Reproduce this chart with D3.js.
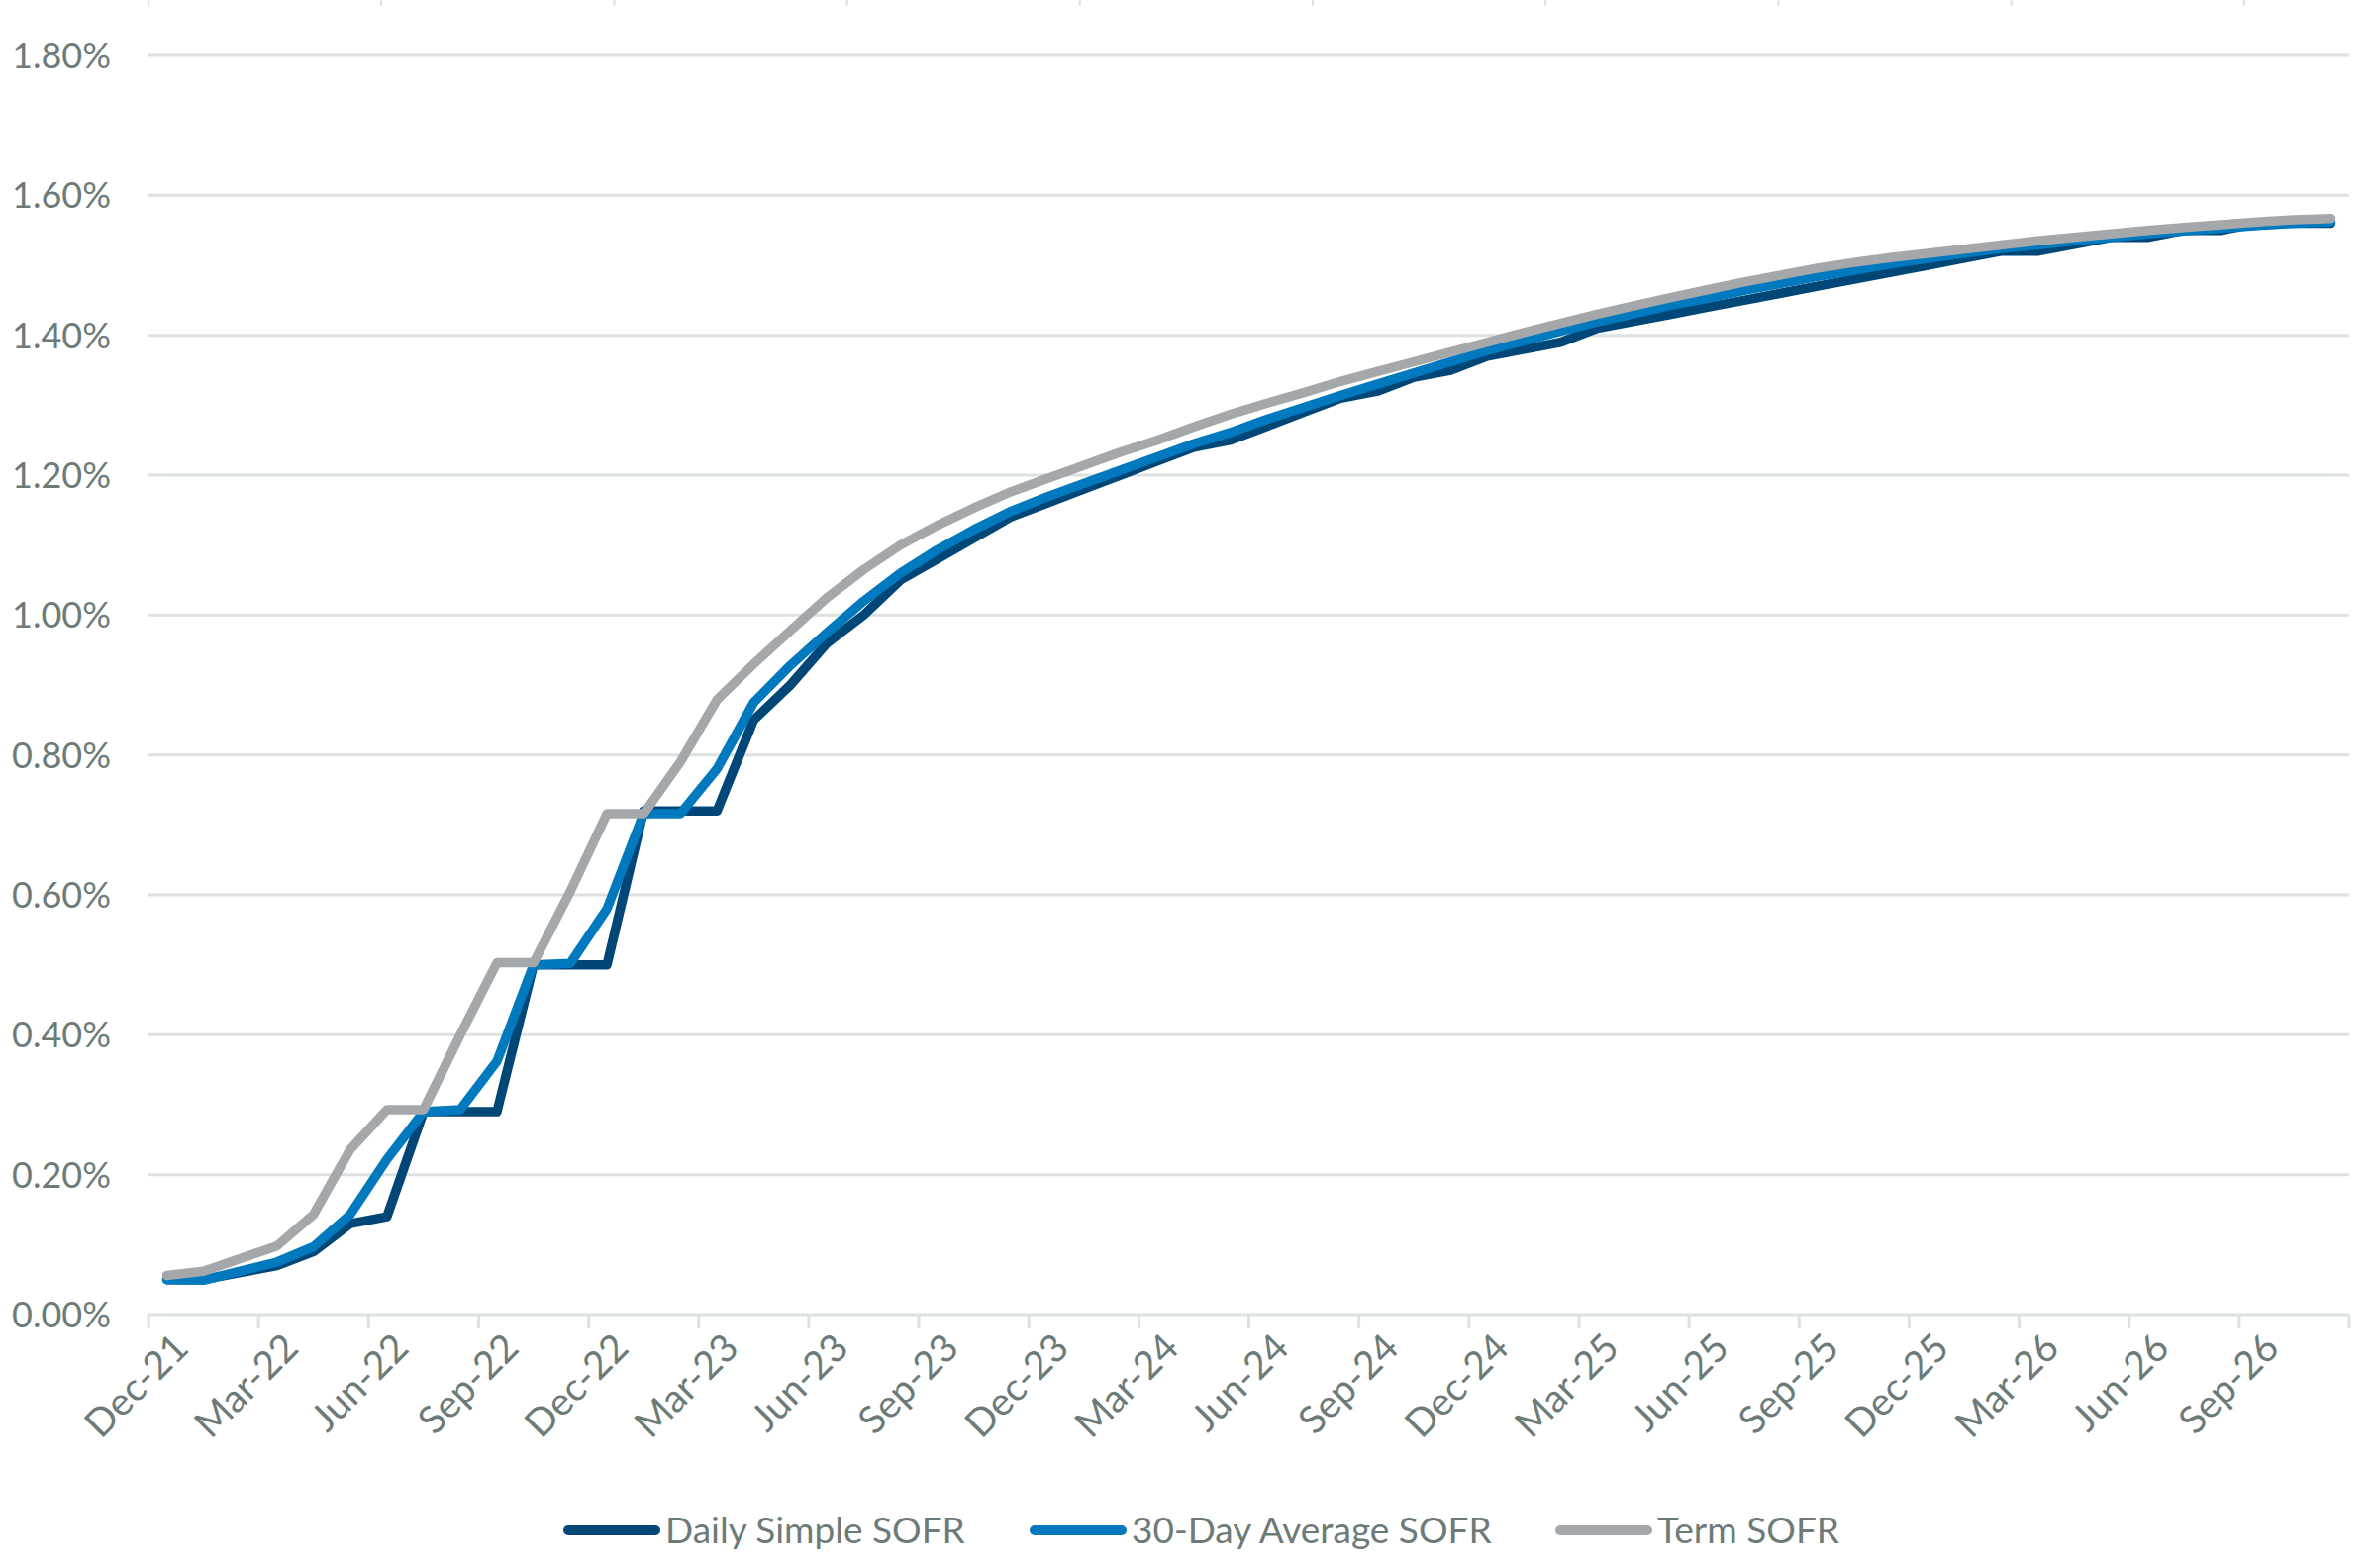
<!DOCTYPE html>
<html>
<head>
<meta charset="utf-8">
<script src="https://cdn.jsdelivr.net/npm/d3@7"></script>
<style>
  html, body { margin: 0; padding: 0; background: #ffffff; }
  svg { display: block; }
</style>
</head>
<body>
<svg id="chart" width="2400" height="1584"></svg>
<script>
const categories = [
  "Dec-21","Jan-22","Feb-22","Mar-22","Apr-22","May-22","Jun-22","Jul-22","Aug-22","Sep-22","Oct-22","Nov-22",
  "Dec-22","Jan-23","Feb-23","Mar-23","Apr-23","May-23","Jun-23","Jul-23","Aug-23","Sep-23","Oct-23","Nov-23",
  "Dec-23","Jan-24","Feb-24","Mar-24","Apr-24","May-24","Jun-24","Jul-24","Aug-24","Sep-24","Oct-24","Nov-24",
  "Dec-24","Jan-25","Feb-25","Mar-25","Apr-25","May-25","Jun-25","Jul-25","Aug-25","Sep-25","Oct-25","Nov-25",
  "Dec-25","Jan-26","Feb-26","Mar-26","Apr-26","May-26","Jun-26","Jul-26","Aug-26","Sep-26","Oct-26","Nov-26"
];

const dailySimpleSOFR = [
  0.05,0.05,0.06,0.07,0.09,0.13,0.14,0.29,0.29,0.29,0.50,0.50,
  0.50,0.72,0.72,0.72,0.85,0.90,0.96,1.00,1.05,1.08,1.11,1.14,
  1.16,1.18,1.20,1.22,1.24,1.25,1.27,1.29,1.31,1.32,1.34,1.35,
  1.37,1.38,1.39,1.41,1.42,1.43,1.44,1.45,1.46,1.47,1.48,1.49,
  1.50,1.51,1.52,1.52,1.53,1.54,1.54,1.55,1.55,1.56,1.56,1.56
];

const avg30DaySOFR = [
  0.050,0.049,0.062,0.075,0.097,0.143,0.222,0.290,0.293,0.362,0.500,0.502,
  0.580,0.716,0.716,0.780,0.875,0.928,0.975,1.020,1.060,1.093,1.122,1.148,
  1.169,1.188,1.207,1.226,1.245,1.261,1.280,1.297,1.314,1.330,1.346,1.362,
  1.378,1.392,1.406,1.419,1.431,1.443,1.453,1.464,1.474,1.484,1.493,1.502,
  1.510,1.517,1.524,1.529,1.535,1.540,1.545,1.549,1.553,1.557,1.560,1.562
];

const termSOFR = [
  0.056,0.062,0.080,0.098,0.143,0.236,0.293,0.293,0.400,0.503,0.503,0.605,
  0.716,0.716,0.790,0.879,0.930,0.978,1.025,1.065,1.100,1.128,1.153,1.176,
  1.195,1.214,1.233,1.250,1.269,1.287,1.303,1.318,1.334,1.348,1.362,1.376,
  1.390,1.404,1.417,1.430,1.442,1.454,1.465,1.476,1.486,1.496,1.504,1.511,
  1.517,1.523,1.529,1.535,1.540,1.545,1.550,1.554,1.558,1.562,1.565,1.567
];

const yTickValues = [0, 0.2, 0.4, 0.6, 0.8, 1.0, 1.2, 1.4, 1.6, 1.8];
const xTickLabels = categories.filter((d, i) => i % 3 === 0);

const seriesNames = ["Daily Simple SOFR", "30-Day Average SOFR", "Term SOFR"];
const seriesColors = ["#004677", "#0079BE", "#A5A8AA"];
const seriesData = [dailySimpleSOFR, avg30DaySOFR, termSOFR];

const svg = d3.select("#chart");
const textColor = "#6D7B78";
const gridColor = "#DCE1E1";
const fontFamily = "Lato, 'Open Sans', sans-serif";

const plotLeft = 150, plotRight = 2373, plotTop = 56, plotBottom = 1328;

const x = d3.scaleBand().domain(categories).range([plotLeft, plotRight]).paddingInner(0).paddingOuter(0);
const y = d3.scaleLinear().domain([0, 1.8]).range([plotBottom, plotTop]);

// small tick marks at the very top (cropped from above)
const topTicks = d3.range(10);
const topScale = d3.scaleLinear().domain([0, 1]).range([plotLeft, plotLeft + 235.2]);
svg.append("g").selectAll("line").data(topTicks).join("line")
  .attr("x1", d => topScale(d)).attr("x2", d => topScale(d))
  .attr("y1", 0).attr("y2", 6)
  .attr("stroke", gridColor).attr("stroke-width", 2);

// gridlines
svg.append("g").selectAll("line").data(yTickValues.filter(v => v > 0)).join("line")
  .attr("x1", plotLeft).attr("x2", plotRight)
  .attr("y1", d => y(d)).attr("y2", d => y(d))
  .attr("stroke", gridColor).attr("stroke-width", 3);

// y labels
svg.append("g").selectAll("text").data(yTickValues).join("text")
  .attr("x", 112).attr("y", d => y(d))
  .attr("dy", "0.36em")
  .attr("text-anchor", "end")
  .attr("fill", textColor)
  .attr("font-family", fontFamily)
  .attr("font-size", 36)
  .text(d => d3.format(".2f")(d) + "%");

// x axis line
svg.append("line")
  .attr("x1", plotLeft).attr("x2", plotRight)
  .attr("y1", plotBottom).attr("y2", plotBottom)
  .attr("stroke", gridColor).attr("stroke-width", 3);

// x tick marks (category boundaries every 3 categories + final)
const tickIdx = d3.range(0, categories.length + 1, 3);
svg.append("g").selectAll("line").data(tickIdx).join("line")
  .attr("x1", i => i < categories.length ? x(categories[i]) : plotRight)
  .attr("x2", i => i < categories.length ? x(categories[i]) : plotRight)
  .attr("y1", plotBottom).attr("y2", plotBottom + 14)
  .attr("stroke", gridColor).attr("stroke-width", 3);

// x labels
svg.append("g").selectAll("text").data(xTickLabels).join("text")
  .attr("transform", d => `translate(${x(d) + x.bandwidth() / 2 + 14},${plotBottom + 26}) rotate(-45)`)
  .attr("text-anchor", "end")
  .attr("dy", "0.36em")
  .attr("fill", textColor)
  .attr("font-family", fontFamily)
  .attr("font-size", 39)
  .text(d => d);

// lines
const line = d3.line()
  .x((d, i) => x(categories[i]) + x.bandwidth() / 2)
  .y(d => y(d));

svg.append("g").selectAll("path").data(seriesData).join("path")
  .attr("d", d => line(d))
  .attr("fill", "none")
  .attr("stroke", (d, i) => seriesColors[i])
  .attr("stroke-width", 9.5)
  .attr("stroke-linejoin", "round")
  .attr("stroke-linecap", "round");

// legend
const legendItems = [
  { name: seriesNames[0], color: seriesColors[0], x0: 574 },
  { name: seriesNames[1], color: seriesColors[1], x0: 1045 },
  { name: seriesNames[2], color: seriesColors[2], x0: 1576 }
];
const legendY = 1546;
const lg = svg.append("g").selectAll("g").data(legendItems).join("g")
  .attr("transform", d => `translate(${d.x0},${legendY})`);
lg.append("line")
  .attr("x1", 0).attr("x2", 88).attr("y1", 0).attr("y2", 0)
  .attr("stroke", d => d.color).attr("stroke-width", 10)
  .attr("stroke-linecap", "round");
lg.append("text")
  .attr("x", 98).attr("y", 0).attr("dy", "0.36em")
  .attr("fill", textColor)
  .attr("font-family", fontFamily)
  .attr("font-size", 37)
  .text(d => d.name);
</script>
</body>
</html>
